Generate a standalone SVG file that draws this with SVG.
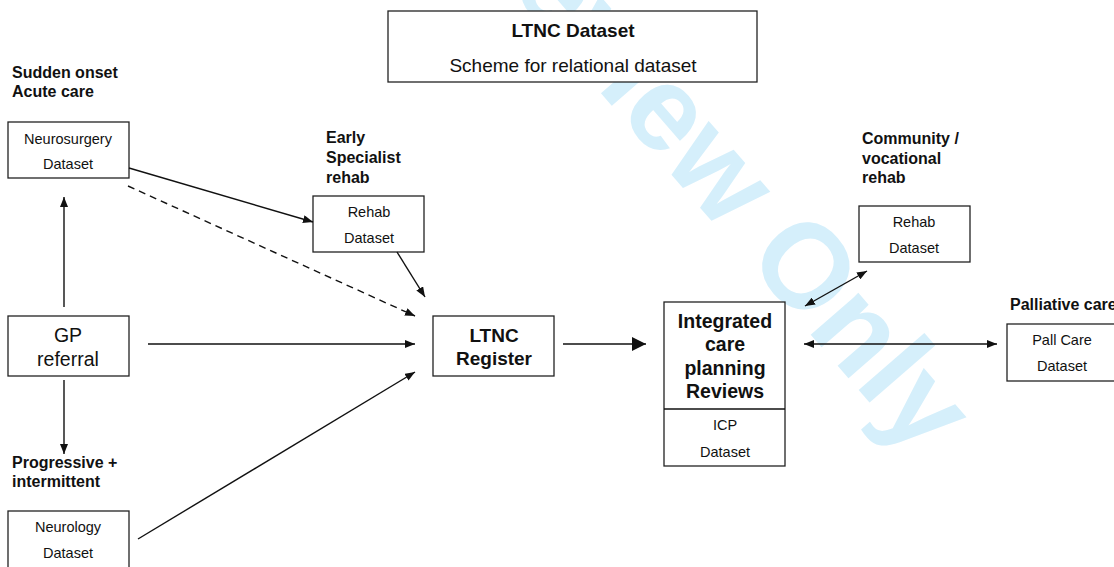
<svg xmlns="http://www.w3.org/2000/svg" width="1114" height="567" viewBox="0 0 1114 567">
<defs>
<style>
.box{fill:#fff;stroke:#222;stroke-width:1.3}
.t{font-family:"Liberation Sans",Arial,sans-serif;fill:#111;text-anchor:middle}
.s{font-size:14.5px}
.b{font-weight:bold}
.lab{font-family:"Liberation Sans",Arial,sans-serif;font-weight:bold;font-size:16px;fill:#111}
.ln{stroke:#111;stroke-width:1.4;fill:none}
.wm{font-family:"Liberation Sans",Arial,sans-serif;font-weight:bold;font-size:120px;fill:#d5effb}
</style>
<marker id="ah" viewBox="0 0 10 8" refX="10" refY="4" markerWidth="10" markerHeight="8" markerUnits="userSpaceOnUse" orient="auto-start-reverse">
<path d="M0,0 L10,4 L0,8 z" fill="#111"/>
</marker>
<marker id="ahb" viewBox="0 0 14 14" refX="14" refY="7" markerWidth="14" markerHeight="14" markerUnits="userSpaceOnUse" orient="auto">
<path d="M0,0 L14,7 L0,14 z" fill="#111"/>
</marker>
</defs>
<rect width="1114" height="567" fill="#fff"/>
<g id="watermark" transform="translate(744,258) rotate(49)">
<text class="wm" x="-33" y="0" text-anchor="end">For Peer Review</text>
<text class="wm" x="0" y="0">Only</text>
</g>
<g id="title">
<rect class="box" x="388" y="11" width="369" height="71"/>
<text class="t b" x="573" y="37" font-size="19">LTNC Dataset</text>
<text class="t" x="573" y="72" font-size="19">Scheme for relational dataset</text>
</g>
<g id="labels">
<text class="lab" x="12" y="78">Sudden onset</text>
<text class="lab" x="12" y="97">Acute care</text>
<text class="lab" x="326" y="143">Early</text>
<text class="lab" x="326" y="163">Specialist</text>
<text class="lab" x="326" y="183">rehab</text>
<text class="lab" x="862" y="144">Community /</text>
<text class="lab" x="862" y="164">vocational</text>
<text class="lab" x="862" y="183">rehab</text>
<text class="lab" x="1010" y="310">Palliative care</text>
<text class="lab" x="12" y="468">Progressive +</text>
<text class="lab" x="12" y="487">intermittent</text>
</g>
<g id="neurosurgery">
<rect class="box" x="8" y="122" width="121" height="56"/>
<text class="t s" x="68" y="144">Neurosurgery</text>
<text class="t s" x="68" y="169">Dataset</text>
</g>
<g id="rehab-early">
<rect class="box" x="313" y="196" width="111" height="56"/>
<text class="t s" x="369" y="217">Rehab</text>
<text class="t s" x="369" y="243">Dataset</text>
</g>
<g id="gp">
<rect class="box" x="8" y="316" width="121" height="60"/>
<text class="t" x="68" y="342" font-size="19.5">GP</text>
<text class="t" x="68" y="366" font-size="19.5">referral</text>
</g>
<g id="neurology">
<rect class="box" x="8" y="511" width="121" height="60"/>
<text class="t s" x="68" y="532">Neurology</text>
<text class="t s" x="68" y="558">Dataset</text>
</g>
<g id="ltnc-register">
<rect class="box" x="433" y="316" width="121" height="60"/>
<text class="t b" x="494" y="342" font-size="19">LTNC</text>
<text class="t b" x="494" y="365" font-size="19">Register</text>
</g>
<g id="icp">
<rect class="box" x="664" y="302" width="121" height="164"/>
<line x1="664" y1="409" x2="785" y2="409" stroke="#111" stroke-width="1.6"/>
<text class="t b" x="725" y="328" font-size="19.5">Integrated</text>
<text class="t b" x="725" y="351" font-size="19.5">care</text>
<text class="t b" x="725" y="375" font-size="19.5">planning</text>
<text class="t b" x="725" y="398" font-size="19.5">Reviews</text>
<text class="t s" x="725" y="430">ICP</text>
<text class="t s" x="725" y="457">Dataset</text>
</g>
<g id="rehab-community">
<rect class="box" x="859" y="206" width="111" height="56"/>
<text class="t s" x="914" y="227">Rehab</text>
<text class="t s" x="914" y="253">Dataset</text>
</g>
<g id="pall-care">
<rect class="box" x="1007" y="324" width="111" height="57"/>
<text class="t s" x="1062" y="345">Pall Care</text>
<text class="t s" x="1062" y="371">Dataset</text>
</g>
<g id="connectors">
<line class="ln" x1="64" y1="307" x2="64" y2="197" marker-end="url(#ah)"/>
<line class="ln" x1="64" y1="380" x2="64" y2="454" marker-end="url(#ah)"/>
<line class="ln" x1="129" y1="168" x2="313" y2="222" marker-end="url(#ah)"/>
<line class="ln" x1="128" y1="186" x2="415" y2="316" stroke-dasharray="7,5" marker-end="url(#ah)"/>
<line class="ln" x1="397" y1="252" x2="425" y2="297" marker-end="url(#ah)"/>
<line class="ln" x1="148" y1="344" x2="415" y2="344" marker-end="url(#ah)"/>
<line class="ln" x1="138" y1="539" x2="415" y2="372" marker-end="url(#ah)"/>
<line class="ln" x1="563" y1="344" x2="646" y2="344" stroke-width="4.5" marker-end="url(#ahb)"/>
<line class="ln" x1="805" y1="306" x2="867" y2="271" marker-start="url(#ah)" marker-end="url(#ah)"/>
<line class="ln" x1="804" y1="344" x2="997" y2="344" marker-start="url(#ah)" marker-end="url(#ah)"/>
</g>
</svg>
